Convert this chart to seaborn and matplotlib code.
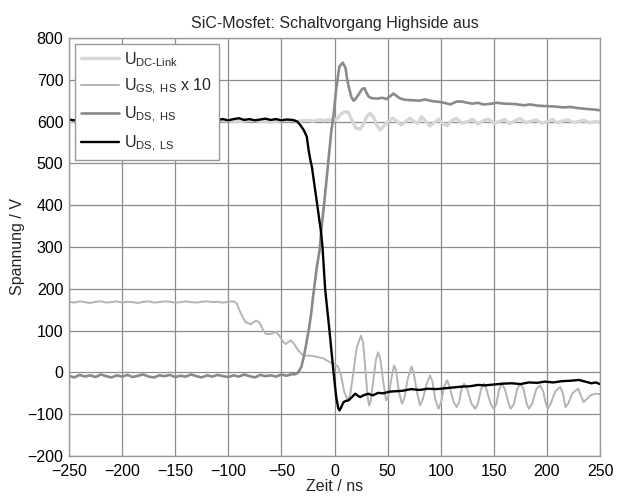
import matplotlib
matplotlib.use("Agg")
import matplotlib.pyplot as plt
import seaborn as sns
import pandas as pd

# ---------------- data (time in ns, voltage in V) ----------------
dc_link = [(-250,601),(-240,603),(-230,600),(-220,602),(-210,604),(-200,601),(-190,599),(-180,602),
           (-170,603),(-160,600),(-150,602),(-140,604),(-130,601),(-120,600),(-110,603),(-100,602),
           (-90,600),(-80,603),(-70,601),(-60,599),(-50,602),(-40,604),(-35,600),(-30,602),(-25,603),
           (-20,601),(-15,604),(-10,602),(-5,605),(0,603),(3,608),(6,618),(10,624),(13,622),(16,605),
           (20,585),(24,582),(27,592),(30,610),(33.5,620),(37,610),(40,590),(43,580),(46,588),(50,600),
           (55,608),(59,600),(63,592),(67,600),(71,608),(75,600),(79,596),(82,612),(86,600),(90,590),
           (94,598),(98,606),(102,596),(106,590),(110,602),(115,608),(120,596),(125,600),(130,606),
           (135,594),(140,602),(145,606),(150,596),(155,600),(160,605),(165,595),(170,602),(175,607),
           (180,597),(185,601),(190,604),(195,596),(200,600),(205,605),(210,597),(215,602),(220,604),
           (225,598),(230,600),(235,603),(240,597),(245,600),(250,599)]

u_gs_hs_x10 = [(-250,169),(-245,167),(-240,170),(-235,168),(-230,166),(-225,169),(-220,170),(-215,167),
               (-210,168),(-205,170),(-200,167),(-195,169),(-190,168),(-185,166),(-180,169),(-175,170),
               (-170,167),(-165,168),(-160,170),(-155,169),(-150,167),(-145,168),(-140,170),(-135,168),
               (-130,167),(-125,169),(-120,170),(-115,168),(-110,169),(-105,167),(-100,169),(-95,170),
               (-92,165),(-89.8,150),(-86,130),(-83.5,120),(-78.8,115),(-74,124),(-71,120),(-67,100),
               (-64.7,92),(-60,92),(-55.3,97),(-52,88),(-48,72),(-45.9,68),(-41.2,77),(-38,68),(-34,52),
               (-30,42),(-26,40),(-22,40),(-18,38),(-14.6,36),(-10,33),(-5,25),(-2,22),(0,20),(3,15),
               (6,-5),(9,-45),(12.5,-68),(15,-50),(18,5),(21,60),(25,88),(27,70),(29,10),(31,-55),
               (32.5,-79),(34,-70),(36.5,-20),(39,30),(41,48),(43,35),(45.5,-15),(48.5,-67),(51,-55),
               (53.5,-15),(56,16),(58,5),(60.5,-45),(63.5,-75),(66,-60),(69,-15),(72.5,14),(74.5,0),
               (77.5,-45),(80.5,-79),(83,-65),(86.5,-30),(90,-7),(92,-20),(95,-65),(98,-87),(100.5,-70),
               (103,-35),(106,-19),(108.5,-35),(112,-70),(115,-83),(117.5,-70),(119.5,-40),(122,-27),
               (125,-40),(129,-75),(132.5,-87),(135,-75),(138,-40),(140.5,-27),(143,-40),(147,-75),
               (150,-87),(152.5,-75),(155,-40),(157.5,-27),(160.5,-40),(164,-75),(166,-87),(169,-75),
               (172,-40),(175,-27),(178,-40),(181,-75),(183,-87),(186,-75),(190,-40),(193.5,-31),
               (196.5,-45),(199,-75),(201,-87),(203.5,-75),(208,-45),(212.5,-35),(215,-50),(217.5,-83),
               (220,-75),(224,-50),(229.5,-39),(232,-55),(234.5,-71),(237,-65),(241,-55),(245.5,-51),
               (250,-52)]

u_ds_hs = [(-250,-8),(-245,-12),(-240,-6),(-235,-10),(-230,-7),(-225,-11),(-220,-5),(-215,-9),
           (-210,-12),(-205,-7),(-200,-10),(-195,-6),(-190,-11),(-185,-8),(-180,-5),(-175,-10),
           (-170,-12),(-165,-7),(-160,-9),(-155,-6),(-150,-11),(-145,-8),(-140,-10),(-135,-5),
           (-130,-9),(-125,-12),(-120,-7),(-115,-10),(-110,-6),(-105,-9),(-100,-11),(-95,-7),
           (-90,-10),(-85,-5),(-80,-9),(-75,-12),(-70,-6),(-65,-9),(-60,-7),(-55,-10),(-50,-5),
           (-45,-8),(-40,-4),(-38,-5),(-35,-2),(-33,5),(-31,15),(-29,37),(-27,62),(-26,77),(-24,105),
           (-22,140),(-20,185),(-18,225),(-16.6,253),(-14,293),(-12.5,338),(-9.4,412),(-6.3,492),
           (-3.2,572),(-0.7,620),(1.5,676),(4.6,732),(7.8,741),(10.4,728),(12,700),(14.1,676),(16,658),
           (18,650),(20,655),(23.5,668),(26,678),(28.3,680),(30,670),(32,660),(35,656),(40,655),
           (45,657),(49,654),(52,660),(55.5,667),(58.7,661),(62,655),(67,652),(74,651),(80,650),
           (85,653),(90,650),(95,648),(99.5,647),(105,644),(109,641),(115,648),(120,648),(125,645),
           (130,643),(135,645),(140,641),(145,642),(153,645),(160,643),(170,642),(178,639),(184,641),
           (192,638),(200,637),(208,636),(215,634),(222,635),(230,632),(238,630),(244,629),(250,627)]

u_ds_ls = [(-250,605),(-245,603),(-240,607),(-235,604),(-230,606),(-225,603),(-220,605),(-215,608),
           (-210,604),(-205,606),(-200,603),(-195,605),(-190,607),(-185,604),(-180,606),(-175,603),
           (-170,605),(-165,607),(-160,604),(-155,606),(-150,603),(-145,605),(-140,607),(-135,604),
           (-130,606),(-125,603),(-120,605),(-115,607),(-110,604),(-105,606),(-100,603),(-95,606),
           (-90,608),(-85,604),(-80,606),(-75,603),(-70,605),(-65,607),(-60,604),(-55,606),(-50,603),
           (-45,605),(-40,604),(-38,603),(-35,600),(-32.3,592),(-29,580),(-26.1,564),(-24.4,532),
           (-22.5,505),(-21.3,492),(-18.2,436),(-15,378),(-12.8,338),(-11.3,300),(-8.8,199),(-4.7,99),
           (-0.9,0),(1.6,-59),(3.5,-85),(4.7,-91),(6,-85),(8.5,-71),(11,-68),(13.2,-67),(16,-60),
           (19.5,-51),(22,-56),(24.2,-59),(28,-54),(32,-51),(36,-55),(41,-49),(46,-50),(52,-46),
           (58,-45),(64,-44),(72,-40),(80,-42),(88,-39),(96,-40),(104,-38),(112,-36),(120,-34),
           (128,-33),(135,-30),(142,-31),(150,-29),(158,-27),(167,-26),(175,-28),(183,-24),(191,-25),
           (198,-22),(206,-24),(214,-21),(222,-20),(230,-18),(236,-22),(242,-26),(246,-24),(250,-28)]

labels = [r'U$_{\mathregular{DC\text{-}Link}}$', r'U$_{\mathregular{GS,\ HS}}$ x 10',
          r'U$_{\mathregular{DS,\ HS}}$', r'U$_{\mathregular{DS,\ LS}}$']
x_ticks = list(range(-250, 251, 50))
y_ticks = list(range(-200, 801, 100))

# ---------------- plot ----------------
sns.set_theme(style="white")
plt.rcParams['font.family'] = ['Liberation Sans', 'DejaVu Sans']
plt.rcParams['mathtext.fontset'] = 'custom'
plt.rcParams['mathtext.rm'] = 'Liberation Sans'
plt.rcParams['mathtext.it'] = 'Liberation Sans:italic'
plt.rcParams['mathtext.bf'] = 'Liberation Sans:bold'

fig = plt.figure(figsize=(6.21, 4.96), dpi=100)
ax = fig.add_axes([69/621, 1-456/496, 531/621, 418/496])

styles = [("#d6d6d6", 2.4), ("#b4b4b4", 1.4), ("#8a8a8a", 1.9), ("#000000", 1.7)]
for series, lab, (col, lw) in zip([dc_link, u_gs_hs_x10, u_ds_hs, u_ds_ls], labels, styles):
    df = pd.DataFrame(series, columns=["t", "v"])
    sns.lineplot(data=df, x="t", y="v", ax=ax, color=col, lw=lw, label=lab,
                 sort=False, estimator=None)

ax.set_xlim(-250, 250)
ax.set_ylim(-200, 800)
ax.set_xticks(x_ticks)
ax.set_yticks(y_ticks)
ax.tick_params(axis='both', length=0, labelsize=11.5, colors='black')
ax.tick_params(axis='x', pad=6)
ax.tick_params(axis='y', pad=4)
ax.grid(True, color='#8c8c8c', lw=0.9)
ax.set_axisbelow(True)
for s in ax.spines.values():
    s.set_color('#999999')
    s.set_linewidth(1.0)

ax.set_xlabel('Zeit / ns', fontsize=11.5, labelpad=0)
ax.set_ylabel('Spannung / V', fontsize=11.5, labelpad=2)
ax.set_title('SiC-Mosfet: Schaltvorgang Highside aus', fontsize=11.5, pad=7)

leg = ax.legend(loc='upper left', fontsize=11.5, handlelength=2.4, labelspacing=0.5,
                borderaxespad=0.35, frameon=True, fancybox=False, framealpha=1,
                edgecolor='#999999', handletextpad=0.3, borderpad=0.4)
leg.get_frame().set_linewidth(1.0)

fig.savefig("out.png", dpi=100)
